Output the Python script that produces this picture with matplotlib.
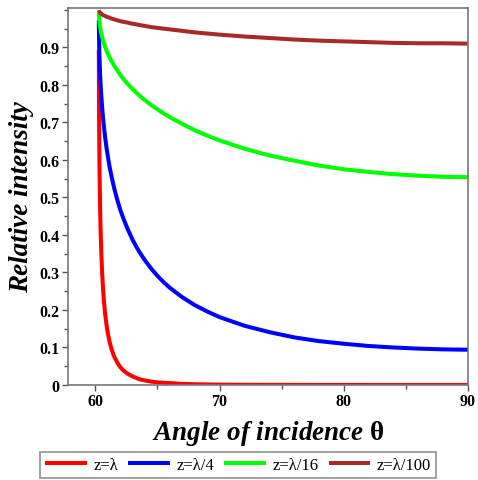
import matplotlib
matplotlib.use('Agg')
import matplotlib.pyplot as plt
from matplotlib.ticker import MultipleLocator

plt.rcParams['mathtext.fontset'] = 'custom'
plt.rcParams['mathtext.rm'] = 'Liberation Serif'
plt.rcParams['mathtext.bf'] = 'Liberation Serif:bold'
plt.rcParams['mathtext.it'] = 'Liberation Serif:italic'

# angle of incidence (degrees), sampled densely near the critical angle
angle = [60.28, 60.30, 60.33, 60.38, 60.43, 60.48, 60.55, 60.63, 60.70,
         60.78, 60.88, 61.0, 61.14, 61.28, 61.5, 61.78, 62.0, 62.28, 62.6,
         63, 63.5, 64, 64.5, 65, 65.5, 66, 67, 68, 69, 70, 72, 74, 76, 78,
         80, 82, 84, 86, 88, 90]

# relative intensity
z_lambda = [0.893, 0.719, 0.594, 0.479, 0.406, 0.353, 0.298, 0.252, 0.221,
            0.193, 0.165, 0.139, 0.116, 0.098, 0.077, 0.059, 0.048, 0.038,
            0.030, 0.023, 0.016, 0.012, 0.009, 0.007, 0.006, 0.005, 0.003,
            0.002, 0.0015, 0.001, 0.0006, 0.0004, 0.0003, 0.0002, 0.00015,
            0.00012, 0.0001, 0.0001, 0.0001, 0.0001]
z_lambda4 = [0.972, 0.921, 0.878, 0.832, 0.798, 0.771, 0.739, 0.708, 0.686,
             0.663, 0.637, 0.611, 0.583, 0.560, 0.527, 0.492, 0.468, 0.442,
             0.416, 0.387, 0.357, 0.332, 0.310, 0.291, 0.274, 0.259, 0.234,
             0.213, 0.196, 0.181, 0.158, 0.141, 0.127, 0.117, 0.110, 0.104,
             0.100, 0.097, 0.095, 0.094]
z_lambda16 = [0.993, 0.980, 0.968, 0.955, 0.945, 0.937, 0.927, 0.917, 0.910,
              0.902, 0.893, 0.884, 0.874, 0.865, 0.852, 0.838, 0.827, 0.815,
              0.803, 0.789, 0.773, 0.759, 0.746, 0.735, 0.724, 0.714, 0.696,
              0.679, 0.665, 0.652, 0.630, 0.612, 0.598, 0.585, 0.575, 0.568,
              0.562, 0.558, 0.555, 0.554]
z_lambda100 = [0.999, 0.997, 0.995, 0.993, 0.991, 0.990, 0.988, 0.986, 0.985,
               0.984, 0.982, 0.981, 0.979, 0.977, 0.975, 0.972, 0.970, 0.968,
               0.966, 0.963, 0.960, 0.957, 0.954, 0.952, 0.950, 0.948, 0.944,
               0.940, 0.937, 0.934, 0.929, 0.925, 0.921, 0.918, 0.916, 0.914,
               0.912, 0.911, 0.911, 0.910]

series = [(z_lambda, 'z=λ', '#ff0000'),
          (z_lambda4, 'z=λ/4', '#0000ff'),
          (z_lambda16, 'z=λ/16', '#00ff00'),
          (z_lambda100, 'z=λ/100', '#a52a2a')]

serif = ['Liberation Serif', 'DejaVu Serif']

fig = plt.figure(figsize=(4.78, 4.81), dpi=100)
ax = fig.add_axes([68 / 478, 1 - 386 / 481, 400 / 478, 377 / 481])

lines = []
for vals, label, color in series:
    ln, = ax.plot(angle, vals, color=color, lw=2.9, label=label,
                  solid_capstyle='butt', solid_joinstyle='round')
    lines.append(ln)

ax.set_xlim(57.8, 90)
ax.set_ylim(0, 1.005)
ax.xaxis.set_major_locator(MultipleLocator(10))
ax.xaxis.set_minor_locator(MultipleLocator(5))
ax.yaxis.set_minor_locator(MultipleLocator(0.05))
ax.set_yticks([0, 0.1, 0.2, 0.3, 0.4, 0.5, 0.6, 0.7, 0.8, 0.9])
ax.set_yticklabels(['0', '0.1', '0.2', '0.3', '0.4', '0.5', '0.6', '0.7',
                    '0.8', '0.9'])
ax.tick_params(which='major', direction='out', length=4, width=1,
               color='#555555', pad=2)
ax.tick_params(which='minor', direction='out', length=3, width=1,
               color='#555555')
for lab in ax.get_xticklabels() + ax.get_yticklabels():
    lab.set_fontfamily(serif)
    lab.set_fontweight('bold')
    lab.set_fontsize(11.5)
for sp in ax.spines.values():
    sp.set_color('#777777')
    sp.set_linewidth(1.2)

ax.set_xlabel(r'Angle of incidence $\mathbf{θ}$', fontfamily=serif,
              fontweight='bold', fontstyle='italic', fontsize=19.5,
              labelpad=6)
ax.set_ylabel('Relative intensity', fontfamily=serif, fontweight='bold',
              fontstyle='italic', fontsize=19.5, labelpad=4)

leg = fig.legend(handles=lines, loc='lower center', ncol=4,
                 bbox_to_anchor=(238 / 478, 2 / 481), frameon=True,
                 fancybox=False, edgecolor='#777777', handlelength=2.5,
                 handletextpad=0.4, columnspacing=0.6, borderpad=0.3,
                 borderaxespad=0.0,
                 prop={'family': serif, 'size': 12})
leg.get_frame().set_linewidth(1.2)

fig.savefig('out.png', dpi=100)
